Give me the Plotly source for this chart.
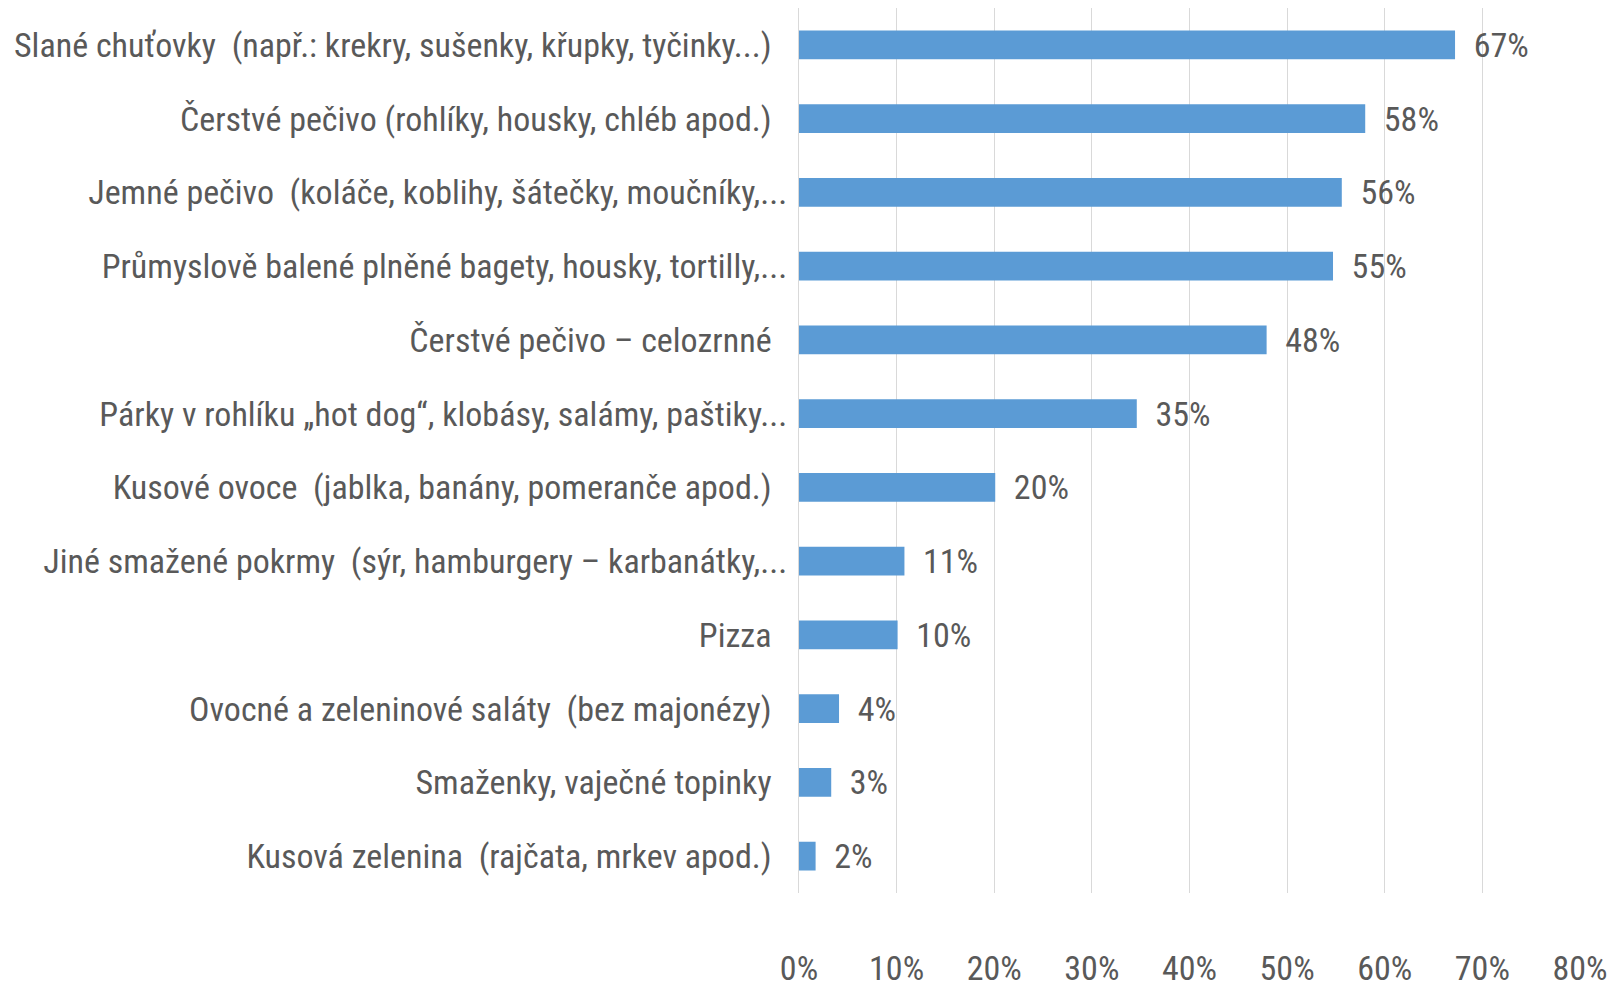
import plotly.graph_objects as go

# kategorie odshora dolu
categories = [
    "Slané chuťovky  (např.: krekry, sušenky, křupky, tyčinky...)",
    "Čerstvé pečivo (rohlíky, housky, chléb apod.)",
    "Jemné pečivo  (koláče, koblihy, šátečky, moučníky,...",
    "Průmyslově balené plněné bagety, housky, tortilly,...",
    "Čerstvé pečivo – celozrnné",
    "Párky v rohlíku „hot dog“, klobásy, salámy, paštiky...",
    "Kusové ovoce  (jablka, banány, pomeranče apod.)",
    "Jiné smažené pokrmy  (sýr, hamburgery – karbanátky,...",
    "Pizza",
    "Ovocné a zeleninové saláty  (bez majonézy)",
    "Smaženky, vaječné topinky",
    "Kusová zelenina  (rajčata, mrkev apod.)",
]
values = [67.2, 58.0, 55.6, 54.7, 47.9, 34.6, 20.1, 10.8, 10.1, 4.1, 3.3, 1.7]
tick_vals = [0, 10, 20, 30, 40, 50, 60, 70, 80]
tick_text = ["0%", "10%", "20%", "30%", "40%", "50%", "60%", "70%", "80%"]

# zkracene popisky (s "...") jsou v Excelu blize k ose
labels = [c if c.endswith(",...") or c.endswith("...") and not c.endswith(")") else c + "\u00a0\u00a0" for c in categories]

font_name = "Liberation Sans Narrow, Arial Narrow, Roboto Condensed, sans-serif"
gray = "#595959"
fsize = 34

fig = go.Figure(go.Bar(
    x=values,
    y=labels,
    orientation="h",
    marker=dict(color="#5B9BD5", line=dict(width=0)),
    texttemplate="\u00a0\u00a0%{x:.0f}%",
    textposition="outside",
    constraintext="none",
    cliponaxis=False,
    textfont=dict(family=font_name, size=fsize, color=gray),
))

fig.update_layout(
    width=1624, height=987,
    margin=dict(l=791, r=52, t=0, b=102),
    paper_bgcolor="white", plot_bgcolor="white",
    bargap=0.61,
    showlegend=False,
    font=dict(family=font_name, size=fsize, color=gray),
)
fig.update_xaxes(
    range=[0, 80], tickvals=tick_vals, ticktext=tick_text,
    showgrid=True, gridcolor="#D9D9D9", gridwidth=1,
    zeroline=False, showline=False, ticks="",
    ticklabelstandoff=52,
    tickfont=dict(family=font_name, size=fsize, color=gray),
)
fig.update_yaxes(
    autorange="reversed", showgrid=False, ticks="",
    showline=True, linecolor="#D9D9D9", linewidth=1,
    ticklabelstandoff=4,
    tickfont=dict(family=font_name, size=fsize, color=gray),
)

fig.write_html("out.html")
